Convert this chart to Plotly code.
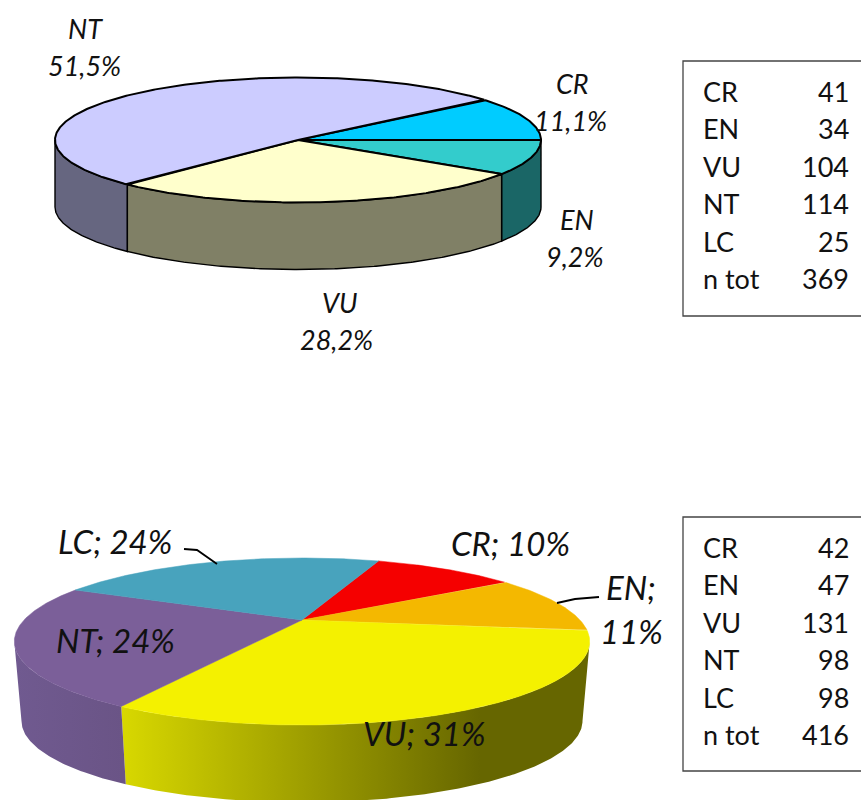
import numpy as np
import plotly.graph_objects as go

# Red-list category counts and shares for the two assessments
upper_names = ["CR", "EN", "VU", "NT"]
upper_share = [11.1, 9.2, 28.2, 51.5]
upper_table_labels = ["CR", "EN", "VU", "NT", "LC", "n tot"]
upper_table_counts = [41, 34, 104, 114, 25, 369]

lower_names = ["CR", "EN", "VU", "NT", "LC"]
lower_counts = [42, 47, 131, 98, 98]
lower_table_labels = ["CR", "EN", "VU", "NT", "LC", "n tot"]
lower_table_counts = [42, 47, 131, 98, 98, 416]

# Slice colours
upper_top = {"CR": "#00ccff", "EN": "#33cccc", "VU": "#ffffcc", "NT": "#ccccff"}
upper_side = {"CR": "#006680", "EN": "#1a6666", "VU": "#808066", "NT": "#666680"}
lower_top = {"CR": "#f50000", "EN": "#f4b800", "VU": "#f4f100", "NT": "#7b5f99", "LC": "#48a3bd"}

FONT = "Lato"


def project(theta, pie, depth=0.0):
    """Map pie angles (degrees) to page pixels with a simple perspective."""
    t = np.radians(theta)
    u, v = np.cos(t), np.sin(t)
    w = 1 + pie["k"] * v
    s = 1 - pie["shrink"] * (depth > 0)
    return pie["cx"] + s * pie["rx"] * u / w, pie["cy"] + depth - s * pie["ry"] * v / w


def slice_bounds(values, start):
    sweep = 360 * np.asarray(values, float) / np.sum(values)
    ends = start - np.cumsum(sweep)
    return np.concatenate([[start], ends[:-1]]), ends


def arc(a, b):
    return np.linspace(a, b, max(int(abs(a - b) * 2), 2))


def add_side(fig, a, b, pie, **style):
    limit = np.degrees(np.arcsin(pie["k"]))
    lo, hi = -180 + limit, -limit
    a, b = min(a, hi), max(b, lo)
    if a <= b:
        return
    th = arc(a, b)
    x0, y0 = project(th, pie)
    x1, y1 = project(th[::-1], pie, pie["depth"])
    fig.add_trace(go.Scatter(x=np.r_[x0, x1, x0[0]], y=np.r_[y0, y1, y0[0]],
                             mode="lines", fill="toself", hoverinfo="skip", **style))


def add_top(fig, a, b, pie, color, line):
    th = arc(a, b)
    x, y = project(th, pie)
    fig.add_trace(go.Scatter(x=np.r_[pie["cx"], x, pie["cx"]], y=np.r_[pie["cy"], y, pie["cy"]],
                             mode="lines", fill="toself", fillcolor=color, line=line,
                             hoverinfo="skip"))


fig = go.Figure()

# Upper pie: flat projection with black outlines
pie_a = dict(cx=298, cy=140, rx=243, ry=62.5, k=0.0, shrink=0.0, depth=67)
starts, ends = slice_bounds(upper_share, 40)
for name in ["NT", "EN", "VU"]:
    i = upper_names.index(name)
    add_side(fig, starts[i], ends[i], pie_a, fillcolor=upper_side[name],
             line=dict(color="black", width=1.4))
for i, name in enumerate(upper_names):
    add_top(fig, starts[i], ends[i], pie_a, upper_top[name], dict(color="black", width=2))

# Lower pie: perspective projection, borderless, with shaded rim
pie_b = dict(cx=302, cy=620, rx=278, ry=78, k=0.2575, shrink=0.025, depth=80)
starts, ends = slice_bounds(lower_counts, 70)
rim = {
    "VU": dict(type="horizontal", start=119, stop=480,
               colorscale=[[0, "#d9d900"], [1, "#666600"]]),
    "NT": dict(type="horizontal", start=14, stop=123,
               colorscale=[[0, "#705a90"], [1, "#6a5486"]]),
}
for name, grad in rim.items():
    i = lower_names.index(name)
    add_side(fig, starts[i], ends[i], pie_b, fillgradient=grad, line=dict(width=0))
for i, name in enumerate(lower_names):
    add_top(fig, starts[i], ends[i], pie_b, lower_top[name], dict(color=lower_top[name], width=0.5))

# Leader lines for the outside labels
for xs, ys in [([184, 197, 217], [549, 550, 564]), ([599, 575, 557], [597, 599, 603])]:
    fig.add_trace(go.Scatter(x=xs, y=ys, mode="lines", line=dict(color="black", width=1.8),
                             hoverinfo="skip"))


def label(text, x, y, size, italic=True, anchor="center", color="#111111"):
    fig.add_annotation(x=x, y=y, text=text, showarrow=False, xref="x", yref="y",
                       xanchor=anchor, yanchor="middle",
                       font=dict(family=FONT, size=size, color=color,
                                 style="italic" if italic else "normal"))


# Upper pie labels
for text, x, y in [("NT", 85, 28), ("51,5%", 84, 65), ("CR", 572, 83), ("11,1%", 570, 120),
                   ("EN", 577, 219), ("9,2%", 574, 256), ("VU", 340, 302), ("28,2%", 336, 339)]:
    label(text, x, y, 27)

# Lower pie labels
for text, x, y in [("LC; 24%", 115, 541), ("CR; 10%", 510, 543), ("EN;", 631, 587),
                   ("11%", 631, 631), ("NT; 24%", 115, 640), ("VU; 31%", 424, 733)]:
    label(text, x, y, 33)

# Count tables
for y0, y1, first_row, labels, counts in [
    (61, 316, 91.5, upper_table_labels, upper_table_counts),
    (517, 771, 547.5, lower_table_labels, lower_table_counts),
]:
    fig.add_shape(type="rect", xref="x", yref="y", x0=683, x1=880, y0=y0, y1=y1,
                  line=dict(color="#444444", width=1.3))
    for r, (name, n) in enumerate(zip(labels, counts)):
        y = first_row + r * 37.4
        label(name, 701, y, 27, italic=False, anchor="left")
        label(str(n), 851, y, 27, italic=False, anchor="right")

fig.update_xaxes(range=[0, 861], visible=False, fixedrange=True)
fig.update_yaxes(range=[800, 0], visible=False, fixedrange=True)
fig.update_layout(width=861, height=800, margin=dict(l=0, r=0, t=0, b=0),
                  showlegend=False, plot_bgcolor="white", paper_bgcolor="white")
fig.write_html("out.html", config={"displayModeBar": False})
